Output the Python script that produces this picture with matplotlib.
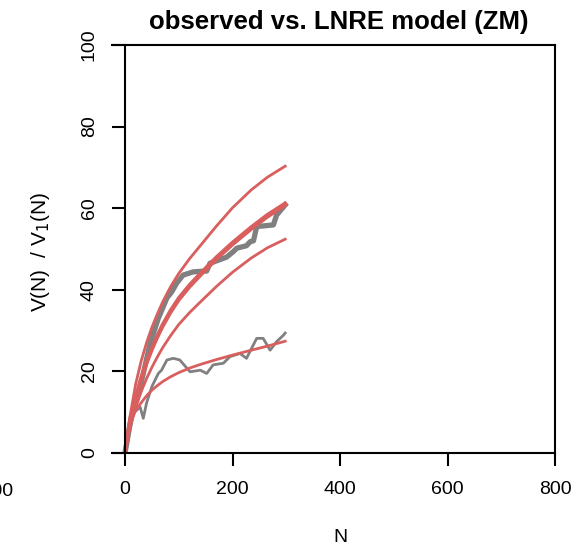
import matplotlib.pyplot as plt

plt.rcParams['font.family'] = ['Liberation Sans', 'DejaVu Sans']

# observed V(N) (thick grey) and V1(N) (thin grey)
obs_n = [0, 12, 28, 47, 62, 78, 87, 96, 108, 127, 152, 158, 189, 201, 208, 226, 233, 239, 245, 276, 282, 298]
obs_v = [0, 9, 16, 27, 33, 38, 39.5, 41.6, 43.6, 44.4, 44.6, 46.5, 48, 49.3, 50.2, 50.8, 51.8, 52, 55.5, 55.9, 58.3, 60.8]
v1_n = [0, 15.5, 28, 34, 40, 50, 62, 68, 78, 90, 102, 121, 140, 152, 164, 183, 195, 214, 226, 245, 257, 270, 282, 295, 298]
v1_v = [0, 9.7, 11.3, 8.5, 12.2, 16.3, 19.5, 20.3, 22.8, 23.2, 22.8, 19.9, 20.3, 19.5, 21.6, 22, 23.6, 24.4, 23.2, 28.1, 28.1, 25.2, 27.3, 28.9, 29.4]

# ZM model curves (red), read at these N
mod_n = [0, 5, 10, 20, 30, 40, 50, 60, 70, 85, 100, 120, 140, 170, 200, 235, 265, 298]
mod_top = [0, 5.5, 9.5, 17, 22.5, 27, 30.8, 34, 37, 40.8, 44, 47.6, 50.8, 55.6, 60.1, 64.5, 67.6, 70.3]
mod_mid1 = [0, 4.6, 8, 13.8, 18.5, 22.4, 25.8, 28.8, 31.5, 35.0, 38.0, 41.2, 44.0, 48.0, 51.6, 55.4, 58.4, 61.2]
mod_mid2 = [0, 4.4, 7.7, 13.4, 18.0, 21.9, 25.3, 28.3, 31.0, 34.5, 37.5, 40.7, 43.5, 47.5, 51.1, 54.9, 57.9, 60.7]
mod_low = [0, 3.6, 6.5, 11.2, 15, 18.2, 21, 23.5, 25.8, 28.8, 31.5, 34.4, 37, 40.8, 44.3, 47.8, 50.3, 52.4]
mod_v1 = [0, 4.5, 7.5, 10.5, 12.3, 14.0, 15.4, 16.5, 17.5, 18.7, 19.7, 20.8, 21.7, 22.9, 24.0, 25.2, 26.2, 27.4]

xticks = [0, 200, 400, 600, 800]
yticks = [0, 20, 40, 60, 80, 100]

red = '#D95F5F'
grey = '#808080'

fig = plt.figure(figsize=(5.79, 5.48), dpi=100)
ax = fig.add_axes([112/579, 1-453/548, (555-112)/579, (453-45)/548])

ax.plot(obs_n, obs_v, color=grey, lw=3.8)
ax.plot(v1_n, v1_v, color=grey, lw=2.0)
for m in (mod_top, mod_low, mod_v1):
    ax.plot(mod_n, m, color=red, lw=2.0)
ax.plot(mod_n, mod_mid2, color=red, lw=2.6)
ax.plot(mod_n, mod_mid1, color=red, lw=2.6)

ax.set_xlim(-24.2, 800)
ax.set_ylim(0, 100)
ax.spines['left'].set_position(('data', 0))
for s in ax.spines.values():
    s.set_linewidth(1.5)
ax.set_xticks(xticks)
ax.set_yticks(yticks)
ax.set_yticklabels([str(t) for t in yticks], rotation=90, va='center')
ax.tick_params(length=9.5, width=1.5, labelsize=14)
ax.tick_params(axis='x', pad=11)
ax.tick_params(axis='y', pad=10)

fig.text(339/579, 1-22/548, 'observed vs. LNRE model (ZM)', ha='center', va='center',
         fontsize=18.5, fontweight='bold')
fig.text(340/579, 1-537/548, 'N', ha='center', va='center', fontsize=14)
fig.text(40/579, 1-252/548, 'V(N)  / V$_1$(N)', ha='center', va='center', rotation=90, fontsize=15)
fig.text(13/579, 1-492/548, '-200', ha='right', va='center', fontsize=14)

fig.savefig('out.png', dpi=100)
